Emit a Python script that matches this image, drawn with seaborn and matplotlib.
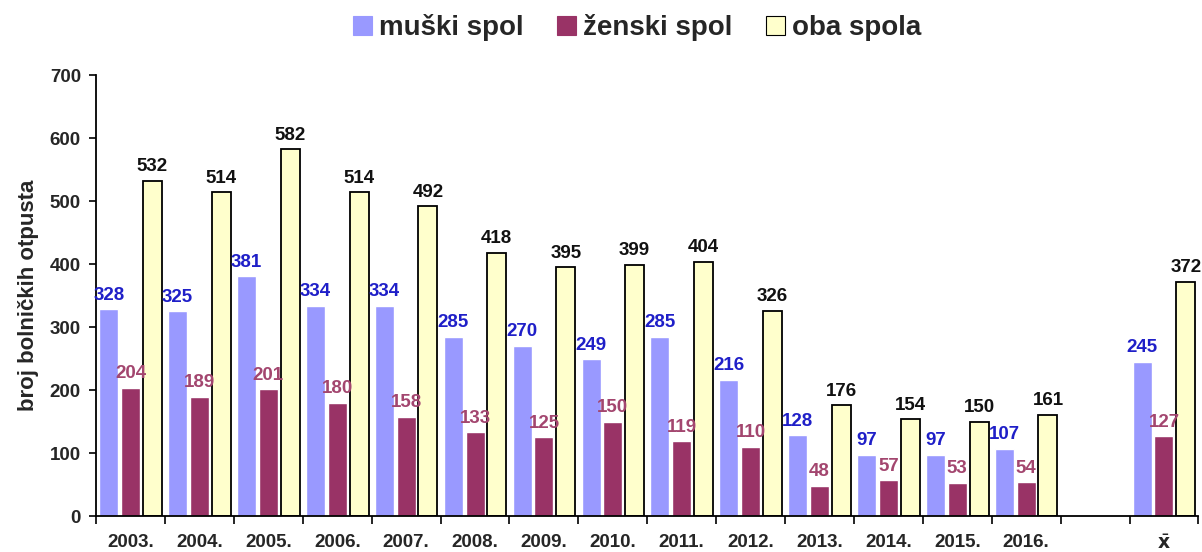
import matplotlib
matplotlib.use("Agg")
import matplotlib.pyplot as plt
from matplotlib.patches import Patch
import seaborn as sns
import pandas as pd
import numpy as np

years = ["2003.", "2004.", "2005.", "2006.", "2007.", "2008.", "2009.",
         "2010.", "2011.", "2012.", "2013.", "2014.", "2015.", "2016.", " ", "x̄"]
muski = [328, 325, 381, 334, 334, 285, 270, 249, 285, 216, 128, 97, 97, 107, np.nan, 245]
zenski = [204, 189, 201, 180, 158, 133, 125, 150, 119, 110, 48, 57, 53, 54, np.nan, 127]
oba = [532, 514, 582, 514, 492, 418, 395, 399, 404, 326, 176, 154, 150, 161, np.nan, 372]

series = ["muški spol", "ženski spol", "oba spola"]
fills = ["#9999ff", "#993366", "#ffffcc"]
label_colors = ["#1f1fc8", "#a3466f", "#111111"]

df = pd.DataFrame({
    "godina": years * 3,
    "spol": [series[0]] * len(years) + [series[1]] * len(years) + [series[2]] * len(years),
    "broj": muski + zenski + oba,
})

sns.set_style("white")
plt.rcParams["font.family"] = ["Liberation Sans", "DejaVu Sans"]

fig = plt.figure(figsize=(12.02, 5.52), dpi=100)
ax = fig.add_axes([0.080, 0.065, 0.917, 0.799])

sns.barplot(data=df, x="godina", y="broj", hue="spol", order=years,
            hue_order=series, palette=fills, saturation=1, width=0.95, gap=0.13,
            ax=ax, errorbar=None, legend=False)

for cont, col in zip(ax.containers, label_colors):
    labels = ["" if np.isnan(v) else f"{int(v)}" for v in cont.datavalues]
    ax.bar_label(cont, labels=labels, color=col, fontsize=13.5,
                 fontweight="bold", padding=4)

# outline only the "oba spola" bars
for patch in ax.containers[2]:
    patch.set_edgecolor("black")
    patch.set_linewidth(1.3)

ax.set_ylim(0, 700)
ax.set_xlim(-0.5, len(years) - 0.5)
ax.set_yticks(range(0, 701, 100))
ax.set_ylabel("broj bolničkih otpusta", fontsize=16, fontweight="bold", labelpad=8)
ax.set_xlabel("")

ticklabels = years[:-1] + [r"$\bar{\mathbf{x}}$"]
ax.set_xticks(range(len(years)))
ax.set_xticklabels(ticklabels)
ax.set_xticks(np.arange(-0.5, len(years)), minor=True)
ax.tick_params(axis="x", which="major", bottom=True, length=0, pad=13)
ax.tick_params(axis="x", which="minor", bottom=True, length=6, width=1.2,
               direction="out", color="black")
ax.tick_params(axis="y", left=True, length=5, width=1.2, direction="out",
               color="black", pad=6)
for lab in ax.get_xticklabels() + ax.get_yticklabels():
    lab.set_fontweight("bold")
    lab.set_fontsize(13.5)

sns.despine(ax=ax)
for s in ["left", "bottom"]:
    ax.spines[s].set_color("black")
    ax.spines[s].set_linewidth(1.3)

handles = [Patch(facecolor=c, edgecolor=("black" if i == 2 else c), linewidth=0.8)
           for i, c in enumerate(fills)]
fig.legend(handles, series, loc="upper center", bbox_to_anchor=(0.53, 1.02), ncol=3,
           frameon=False, prop={"weight": "bold", "size": 20}, handlelength=0.7,
           handleheight=0.7, handletextpad=0.25, columnspacing=1.2)

fig.savefig("out.png", dpi=100, facecolor="white")
